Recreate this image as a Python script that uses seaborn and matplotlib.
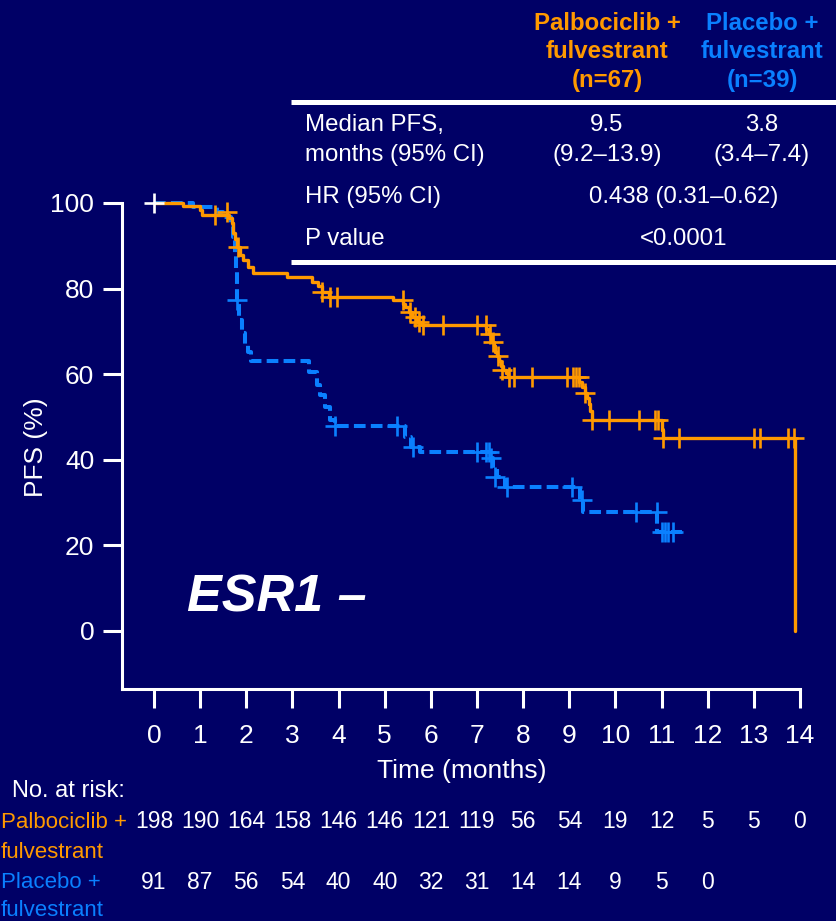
import matplotlib
matplotlib.use("Agg")
import matplotlib.pyplot as plt
import seaborn as sns
from matplotlib.lines import Line2D
from matplotlib.transforms import blended_transform_factory

# ---------------- data ----------------
palbo_time = [0, 0.63, 1.0, 1.05, 1.62, 1.68, 1.72, 1.76, 1.80, 1.86, 1.93, 2.03, 2.15,
              2.88, 3.42, 3.55, 3.65, 3.80, 5.18, 5.40, 5.45, 5.52, 5.60, 5.70, 5.80,
              7.20, 7.25, 7.30, 7.33, 7.36, 7.40, 7.43, 7.47, 7.52, 7.56, 7.62, 7.68,
              9.22, 9.28, 9.33, 9.38, 9.42, 9.45, 9.50, 11.00, 11.03, 13.90]
palbo_surv = [100, 99.3, 98.3, 97.2, 96.5, 95.3, 93.0, 91.5, 89.7, 87.8, 86.7, 85.0, 83.6,
              82.7, 81.5, 80.5, 79.3, 78.1, 77.3, 76.5, 75.8, 74.5, 73.3, 72.3, 71.4,
              70.5, 69.5, 68.5, 67.5, 66.5, 65.3, 64.2, 63.2, 62.0, 61.0, 60.2, 59.3,
              58.2, 57.0, 55.7, 54.5, 53.0, 51.3, 49.3, 47.0, 45.1, 0]
palbo_cens_time = [1.32, 1.58, 1.82, 3.64, 3.81, 3.97, 5.40, 5.55, 5.65, 5.75, 5.82, 6.27, 7.00,
                   7.20, 7.28, 7.35, 7.45, 7.55, 7.70, 7.80, 8.20, 8.95, 9.07, 9.14, 9.20,
                   9.35, 9.50, 9.86, 10.50, 10.86, 10.93, 11.03, 11.38, 13.00, 13.13, 13.74, 13.87]
palbo_cens_surv = [97.2, 97.9, 89.7, 79.3, 78.1, 78.1, 77.3, 74.5, 73.3, 72.3, 71.4, 71.4, 71.4,
                   71.4, 69.5, 67.5, 64.2, 61.0, 59.3, 59.3, 59.3, 59.3, 59.3, 59.3, 59.3,
                   55.7, 49.3, 49.3, 49.3, 49.3, 49.3, 45.1, 45.1, 45.1, 45.1, 45.1, 45.1]

plac_time = [0, 0.85, 1.37, 1.50, 1.66, 1.72, 1.75, 1.77, 1.79, 1.80, 1.84, 1.90, 1.97,
             2.04, 2.10, 3.35, 3.53, 3.60, 3.70, 3.82, 3.92, 5.44, 5.58, 5.76, 7.28,
             7.35, 7.43, 7.60, 9.23, 9.30, 10.90, 11.45]
plac_surv = [100, 99.0, 98.0, 96.7, 94.4, 92.0, 88.0, 84.0, 80.0, 77.3, 72.6, 69.6, 67.0,
             65.2, 63.2, 60.5, 57.5, 55.1, 52.3, 49.3, 47.9, 45.4, 43.0, 41.8, 40.4,
             38.2, 36.0, 33.6, 30.7, 27.8, 23.1, 23.1]
plac_cens_time = [1.80, 3.92, 5.27, 5.61, 7.00, 7.20, 7.25, 7.30, 7.39, 7.65, 9.06, 9.27,
                  10.45, 10.90, 11.00, 11.07, 11.14, 11.25]
plac_cens_surv = [77.3, 47.9, 47.9, 43.0, 41.8, 41.8, 41.8, 40.4, 36.0, 33.6, 33.6, 30.7,
                  27.8, 27.8, 23.1, 23.1, 23.1, 23.1]

start_cens_time = [0]
start_cens_surv = [100]

months = list(range(15))
y_ticks = [0, 20, 40, 60, 80, 100]
palbo_risk = [198, 190, 164, 158, 146, 146, 121, 119, 56, 54, 19, 12, 5, 5, 0]
plac_risk = [91, 87, 56, 54, 40, 40, 32, 31, 14, 14, 9, 5, 0]

arm_palbo = ["Palbociclib +", "fulvestrant"]
arm_plac = ["Placebo +", "fulvestrant"]
header_palbo = ["Palbociclib +", "fulvestrant", "(n=67)"]
header_plac = ["Placebo +", "fulvestrant", "(n=39)"]
table_rows = [("Median PFS,", "9.5", "3.8"),
              ("months (95% CI)", "(9.2\u201313.9)", "(3.4\u20137.4)")]
hr_label, hr_value = "HR (95% CI)", "0.438 (0.31\u20130.62)"
p_label, p_value = "P value", "<0.0001"

# ---------------- style ----------------
BG = "#000066"
ORANGE = "#FF9900"
BLUE = "#0A80FF"
WHITE = "white"

sns.set_theme(style="ticks")
plt.rcParams["font.family"] = ["Liberation Sans", "DejaVu Sans"]
plt.rcParams["axes.facecolor"] = BG
plt.rcParams["figure.facecolor"] = BG

W, H = 836, 921
fig = plt.figure(figsize=(W / 100, H / 100), dpi=100)


def fx(x):
    return x / W


def fy(y):
    return 1 - y / H


x0, x14 = 154, 800
y0, y100 = 631, 203
pxm = (x14 - x0) / 14
pxp = (y0 - y100) / 100
left_px, bottom_px = 122, 689
xmin = (left_px - x0) / pxm
ymin = -(bottom_px - y0) / pxp
ymax = 103
top_px = y100 - (ymax - 100) * pxp

ax = fig.add_axes([fx(left_px), fy(bottom_px), (x14 - left_px) / W, (bottom_px - top_px) / H])
ax.set_facecolor(BG)
ax.set_xlim(xmin, 14)
ax.set_ylim(ymin, ymax)

# curves
sns.lineplot(x=palbo_time, y=palbo_surv, ax=ax, color=ORANGE, lw=2.4,
             drawstyle="steps-post", estimator=None, sort=False, legend=False, zorder=4)
sns.lineplot(x=plac_time, y=plac_surv, ax=ax, color=BLUE, lw=2.9,
             drawstyle="steps-post", estimator=None, sort=False, legend=False,
             linestyle=(0, (2.9, 1.3)), zorder=3)
for ln in ax.lines:
    ln.set_clip_on(False)

sns.scatterplot(x=plac_cens_time, y=plac_cens_surv, ax=ax, marker="+", s=210,
                color=BLUE, linewidth=1.9, zorder=5, legend=False, clip_on=False)
sns.scatterplot(x=palbo_cens_time, y=palbo_cens_surv, ax=ax, marker="+", s=210,
                color=ORANGE, linewidth=1.9, zorder=6, legend=False, clip_on=False)
sns.scatterplot(x=start_cens_time, y=start_cens_surv, ax=ax, marker="+", s=210,
                color=WHITE, linewidth=1.9, zorder=7, legend=False, clip_on=False)

# axes styling
for s in ["top", "right"]:
    ax.spines[s].set_visible(False)
for s in ["left", "bottom"]:
    ax.spines[s].set_color(WHITE)
    ax.spines[s].set_linewidth(2.2)
ax.spines["left"].set_bounds(ymin, 100)
ax.spines["bottom"].set_bounds(xmin, 14)
ax.set_xticks(months)
ax.set_yticks(y_ticks)
ax.tick_params(axis="both", direction="out", length=14, width=2.2, colors=WHITE,
               labelsize=19)
ax.tick_params(axis="x", pad=11)
ax.tick_params(axis="y", pad=6)
ax.grid(False)

ax.set_xlabel("Time (months)", color=WHITE, fontsize=19)
ax.xaxis.set_label_coords(fx(462), fy(771), transform=fig.transFigure)
ax.xaxis.label.set_va("center")
ax.set_ylabel("PFS (%)", color=WHITE, fontsize=19)
ax.yaxis.set_label_coords(fx(36), fy(447), transform=fig.transFigure)
ax.yaxis.label.set_va("center")

# ESR1 label
fig.text(fx(187), fy(598), "ESR1 \u2013", color=WHITE, fontsize=37.5, fontweight="bold",
         fontstyle="italic", ha="left", va="center")

# ---------------- summary table ----------------
TFS = 17.3
col1, col2, colmid, lab_x = 607, 762, 684, 305
for txt, yy in zip(header_palbo, [23, 52, 80]):
    fig.text(fx(col1), fy(yy), txt, color=ORANGE, fontsize=17.3, fontweight="bold",
             ha="center", va="center")
for txt, yy in zip(header_plac, [23, 52, 80]):
    fig.text(fx(col2), fy(yy), txt, color=BLUE, fontsize=17.3, fontweight="bold",
             ha="center", va="center")
for (lab, v1, v2), yy in zip(table_rows, [125, 155]):
    fig.text(fx(lab_x), fy(yy), lab, color=WHITE, fontsize=TFS, ha="left", va="center")
    fig.text(fx(col1), fy(yy), v1, color=WHITE, fontsize=TFS, ha="center", va="center")
    fig.text(fx(col2), fy(yy), v2, color=WHITE, fontsize=TFS, ha="center", va="center")
fig.text(fx(lab_x), fy(197), hr_label, color=WHITE, fontsize=TFS, ha="left", va="center")
fig.text(fx(colmid), fy(197), hr_value, color=WHITE, fontsize=TFS, ha="center", va="center")
fig.text(fx(lab_x), fy(239), p_label, color=WHITE, fontsize=TFS, ha="left", va="center")
fig.text(fx(colmid), fy(239), p_value, color=WHITE, fontsize=TFS, ha="center", va="center")
for yy in [102, 262]:
    fig.add_artist(Line2D([fx(291), 1.0], [fy(yy), fy(yy)], transform=fig.transFigure,
                          color=WHITE, lw=3.6, solid_capstyle="butt"))

# ---------------- number at risk ----------------
fig.text(fx(12), fy(791), "No. at risk:", color=WHITE, fontsize=17, ha="left", va="center")
for txt, yy in zip(arm_palbo, [822, 852]):
    fig.text(fx(1), fy(yy), txt, color=ORANGE, fontsize=16, ha="left", va="center")
for txt, yy in zip(arm_plac, [882, 910]):
    fig.text(fx(1), fy(yy), txt, color=BLUE, fontsize=16, ha="left", va="center")
trans = blended_transform_factory(ax.transData, fig.transFigure)
for m, n in zip(months, palbo_risk):
    ax.text(m, fy(822), str(n), transform=trans, color=WHITE, fontsize=16.5,
            ha="center", va="center", clip_on=False)
for m, n in zip(months, plac_risk):
    ax.text(m, fy(882), str(n), transform=trans, color=WHITE, fontsize=16.5,
            ha="center", va="center", clip_on=False)

fig.savefig("out.png", dpi=100, facecolor=BG)
